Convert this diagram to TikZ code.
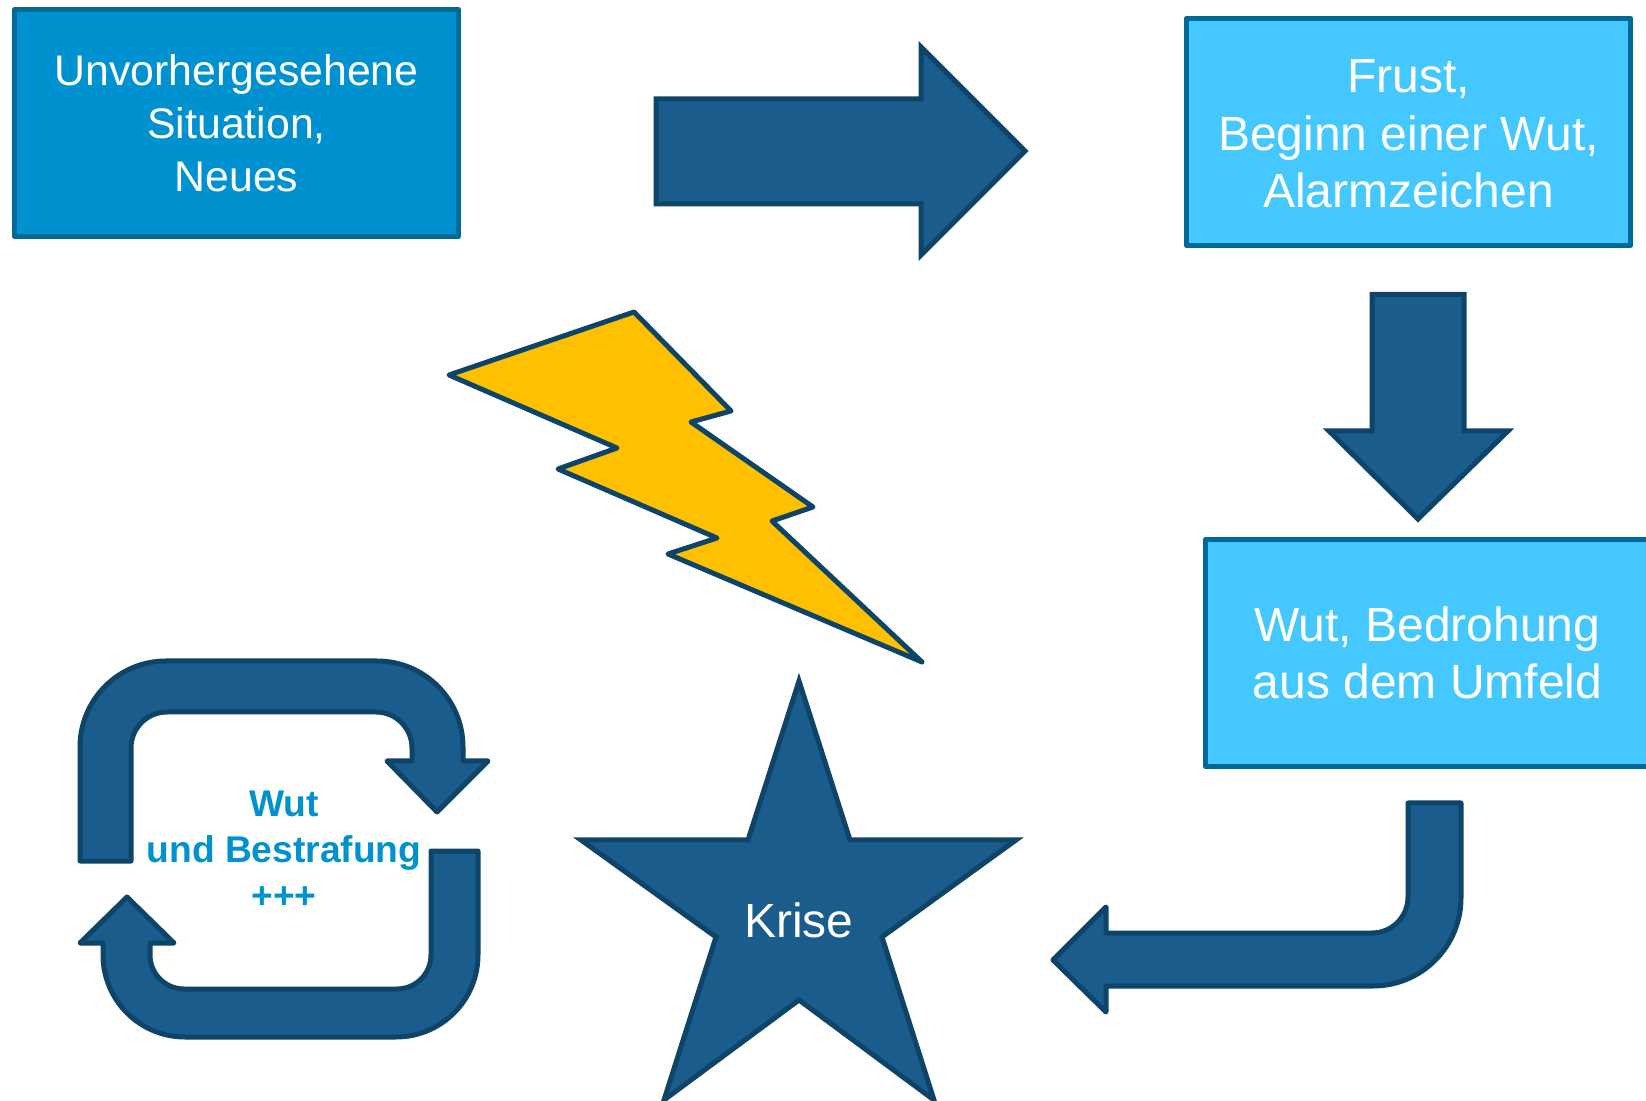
\documentclass[tikz,border=0pt]{standalone}
\usepackage{fontspec}
\setmainfont{Liberation Sans}
\usetikzlibrary{positioning}

\definecolor{boxdark}{HTML}{0092D0}
\definecolor{boxlight}{HTML}{45C8FF}
\definecolor{boxline}{HTML}{006A97}
\definecolor{arrowfill}{HTML}{1A5C8C}
\definecolor{arrowline}{HTML}{0E4468}
\definecolor{boltfill}{HTML}{FFC000}

\tikzset{
  textbox/.style={draw=boxline, line width=2.5pt, line join=round, outer sep=0pt, inner sep=0pt,
    minimum width=222pt, minimum height=113.5pt, align=center, text=white,
    font=\fontsize{24}{28.7}\selectfont},
  blockarrow/.style={draw=arrowline, fill=arrowfill, line width=2.5pt, line join=round},
}

\begin{document}
\begin{tikzpicture}[x=0.5pt, y=-0.5pt]
      \useasboundingbox (0,0) rectangle (1646,1101);

      \node [textbox, fill=boxdark, font=\fontsize{21.4}{26.5}\selectfont] (situation) at (236.5,123)
        {Unvorhergesehene\\Situation,\\Neues};
      \node [textbox, fill=boxlight, right=364pt of situation, yshift=-4.4pt] (frust)
        {\rule{0pt}{18.5pt}Frust,\\Beginn einer Wut,\\Alarmzeichen};
      \node [textbox, fill=boxlight, below=147pt of frust, xshift=9.45pt] (wut)
        {Wut, Bedrohung\\aus dem Umfeld};

      \draw [blockarrow, line join=miter] (656,99) -- (921,99) -- (921,47) -- (1025,151)
        -- (921,255) -- (921,204) -- (656,204) -- cycle;
      \draw [blockarrow, line join=miter] (1372,294.5) -- (1464,294.5) -- (1464,431) -- (1508,431)
        -- (1418,519) -- (1329,431) -- (1372,431) -- cycle;

      \draw [blockarrow] (1408,803) -- (1461,803) [rounded corners=44pt] -- (1461,986)
        [sharp corners] -- (1106,986) -- (1106,1012) -- (1053,960) -- (1106,907) -- (1106,933)
        [rounded corners=18pt] -- (1408,933) [sharp corners] -- cycle;

      \draw [blockarrow] (80,861) [rounded corners=43pt] -- (80,661) -- (463,661)
        [sharp corners] -- (463,761) -- (488,761) -- (437,812) -- (387,761) -- (412,761)
        [rounded corners=18pt] -- (412,712) -- (131,712) [sharp corners] -- (131,861) -- cycle;
      \draw [blockarrow] (431,851) -- (478,851) [rounded corners=41pt] -- (478,1037) -- (103,1037)
        [sharp corners] -- (103,943) -- (80,943) -- (127,897) -- (174,943) -- (150,943)
        [rounded corners=17pt] -- (150,989) -- (431,989) [sharp corners] -- cycle;

      \node [align=center, text=boxdark, font=\fontsize{18.6}{23}\bfseries\selectfont] (strafe) at (284,849.5)
        {Wut\\und Bestrafung\\+++};

      \draw [draw=arrowline, fill=boltfill, line width=2.5pt, line join=round] (449,375) -- (634,312) -- (731,411) -- (691,422)
        -- (813,507) -- (772,521) -- (922,662) -- (668,554) -- (717,538) -- (558,469)
        -- (617,448) -- cycle;

      \draw [blockarrow, line join=miter] (799,681) -- (850,840) -- (1016,840) -- (882,937) -- (934,1100)
        -- (799,1000) -- (664,1100) -- (716,937) -- (581,840) -- (748,840) -- cycle;
      \node [text=white, font=\fontsize{24}{29}\selectfont] (krise) at (799,920) {Krise};
\end{tikzpicture}
\end{document}
